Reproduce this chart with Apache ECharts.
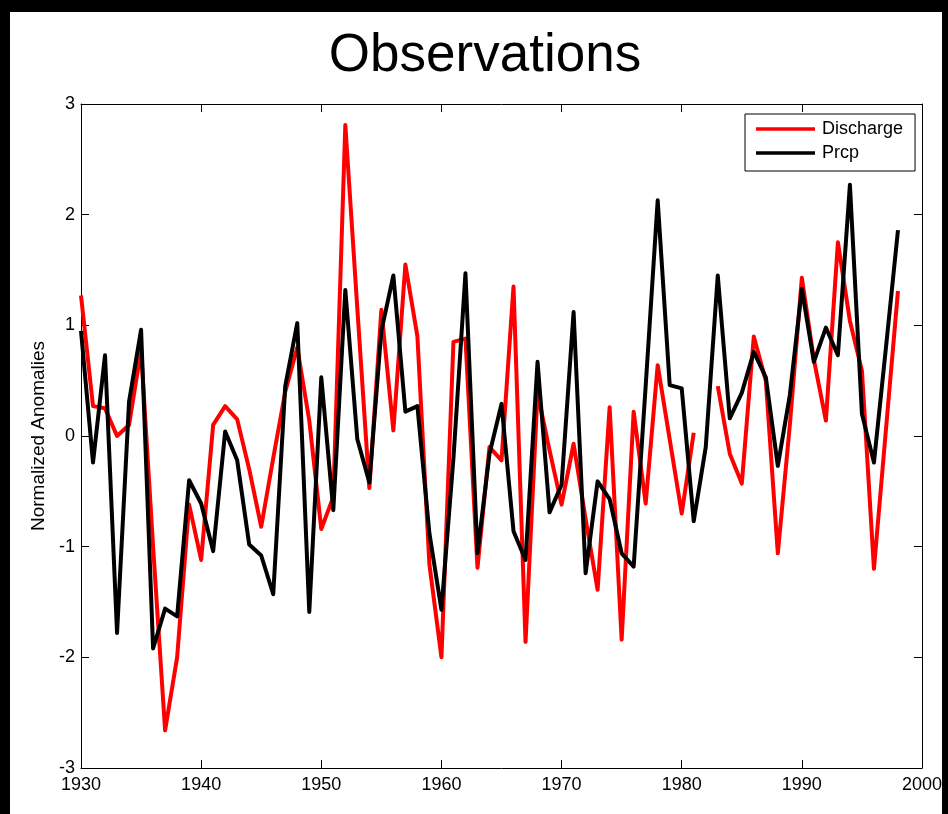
<!DOCTYPE html>
<html>
<head>
<meta charset="utf-8">
<script src="https://cdn.jsdelivr.net/npm/echarts@6/dist/echarts.min.js"></script>
<style>
  html, body { margin: 0; padding: 0; background: #000; width: 948px; height: 814px; overflow: hidden; }
  #fig { position: absolute; left: 10px; top: 12px; width: 932px; height: 802px; background: #fff; }
</style>
</head>
<body>
<div id="fig"></div>
<script>
// Annual series, 1930-1998 (normalized anomalies)
const years = [
  1930, 1931, 1932, 1933, 1934, 1935, 1936, 1937, 1938, 1939,
  1940, 1941, 1942, 1943, 1944, 1945, 1946, 1947, 1948, 1949,
  1950, 1951, 1952, 1953, 1954, 1955, 1956, 1957, 1958, 1959,
  1960, 1961, 1962, 1963, 1964, 1965, 1966, 1967, 1968, 1969,
  1970, 1971, 1972, 1973, 1974, 1975, 1976, 1977, 1978, 1979,
  1980, 1981, 1982, 1983, 1984, 1985, 1986, 1987, 1988, 1989,
  1990, 1991, 1992, 1993, 1994, 1995, 1996, 1997, 1998
];

// Discharge has no value for 1982
const discharge = [
  1.27, 0.27, 0.25, 0.00, 0.10, 0.78, -1.00, -2.66, -2.00, -0.62,
  -1.12, 0.10, 0.27, 0.15, -0.30, -0.82, -0.20, 0.40, 0.80, 0.14,
  -0.84, -0.55, 2.81, 1.15, -0.47, 1.14, 0.05, 1.55, 0.90, -1.16,
  -2.00, 0.85, 0.88, -1.19, -0.10, -0.22, 1.35, -1.86, 0.39, -0.13,
  -0.62, -0.07, -0.75, -1.39, 0.26, -1.84, 0.22, -0.61, 0.64, -0.03,
  -0.70, 0.03, null, 0.45, -0.16, -0.43, 0.90, 0.50, -1.06, 0.10,
  1.43, 0.69, 0.14, 1.75, 1.04, 0.59, -1.20, 0.06, 1.31
];

const prcp = [
  0.95, -0.24, 0.73, -1.78, 0.31, 0.96, -1.92, -1.56, -1.63, -0.40,
  -0.61, -1.04, 0.04, -0.22, -0.98, -1.08, -1.43, 0.45, 1.02, -1.59,
  0.53, -0.67, 1.32, -0.03, -0.42, 0.95, 1.45, 0.22, 0.27, -0.88,
  -1.57, -0.20, 1.47, -1.06, -0.16, 0.29, -0.86, -1.12, 0.67, -0.69,
  -0.44, 1.12, -1.24, -0.41, -0.57, -1.06, -1.18, 0.45, 2.13, 0.46,
  0.43, -0.77, -0.10, 1.45, 0.16, 0.39, 0.76, 0.53, -0.27, 0.37,
  1.33, 0.67, 0.98, 0.73, 2.27, 0.20, -0.24, 0.80, 1.86
];

const seriesNames = ['Discharge', 'Prcp'];
const seriesColors = ['#ff0000', '#000000'];

const FONT = '"Liberation Sans", Arial, Helvetica, sans-serif';

const pairs = vals => years.map((y, i) => [y, vals[i]]);

const xBase = { type: 'value', min: 1930, max: 2000, interval: 10 };
const yBase = { type: 'value', min: -3, max: 3, interval: 1 };
const lineAxis = { show: true, onZero: false, lineStyle: { color: '#000', width: 1 } };
const inTicks = { show: true, inside: true, length: 8, lineStyle: { color: '#000', width: 1 } };
const plain = v => String(v);

const chart = echarts.init(document.getElementById('fig'), null, { renderer: 'canvas' });

chart.setOption({
  animation: false,
  backgroundColor: '#fff',
  textStyle: { fontFamily: FONT },
  title: {
    text: 'Observations',
    left: 470,
    top: 13,
    textAlign: 'center',
    textStyle: { fontFamily: FONT, fontSize: 53, fontWeight: 'normal', color: '#000' }
  },
  legend: {
    data: seriesNames,
    orient: 'vertical',
    left: 735,
    top: 102,
    icon: 'rect',
    itemWidth: 59,
    itemHeight: 3.5,
    itemGap: 6,
    itemStyle: { borderWidth: 0 },
    padding: [6, 12, 9, 11],
    borderColor: '#000',
    borderWidth: 1,
    backgroundColor: '#fff',
    textStyle: { fontFamily: FONT, fontSize: 18, lineHeight: 18, color: '#000', padding: [0, 0, 0, 2] }
  },
  grid: { left: 71, top: 92, right: 20, bottom: 46, containLabel: false, outerBoundsMode: 'none' },
  xAxis: [
    Object.assign({}, xBase, {
      position: 'bottom',
      axisLine: lineAxis,
      axisTick: inTicks,
      splitLine: { show: false },
      axisLabel: { fontFamily: FONT, fontSize: 18, color: '#000', margin: 8, formatter: plain }
    }),
    Object.assign({}, xBase, {
      position: 'top',
      axisLine: lineAxis,
      axisTick: inTicks,
      splitLine: { show: false },
      axisLabel: { show: false }
    })
  ],
  yAxis: [
    Object.assign({}, yBase, {
      position: 'left',
      name: 'Normalized Anomalies',
      nameLocation: 'middle',
      nameGap: 33,
      nameTextStyle: { fontFamily: FONT, fontSize: 19, color: '#000' },
      axisLine: lineAxis,
      axisTick: inTicks,
      splitLine: { show: false },
      axisLabel: { fontFamily: FONT, fontSize: 18, color: '#000', margin: 6, formatter: plain }
    }),
    Object.assign({}, yBase, {
      position: 'right',
      axisLine: lineAxis,
      axisTick: inTicks,
      splitLine: { show: false },
      axisLabel: { show: false }
    })
  ],
  series: [
    {
      name: seriesNames[0],
      type: 'line',
      data: pairs(discharge),
      showSymbol: false,
      symbol: 'none',
      connectNulls: false,
      color: seriesColors[0],
      lineStyle: { color: seriesColors[0], width: 4, join: 'round' },
      z: 2
    },
    {
      name: seriesNames[1],
      type: 'line',
      data: pairs(prcp),
      showSymbol: false,
      symbol: 'none',
      color: seriesColors[1],
      lineStyle: { color: seriesColors[1], width: 4, join: 'round' },
      z: 3
    }
  ]
});
</script>
</body>
</html>
